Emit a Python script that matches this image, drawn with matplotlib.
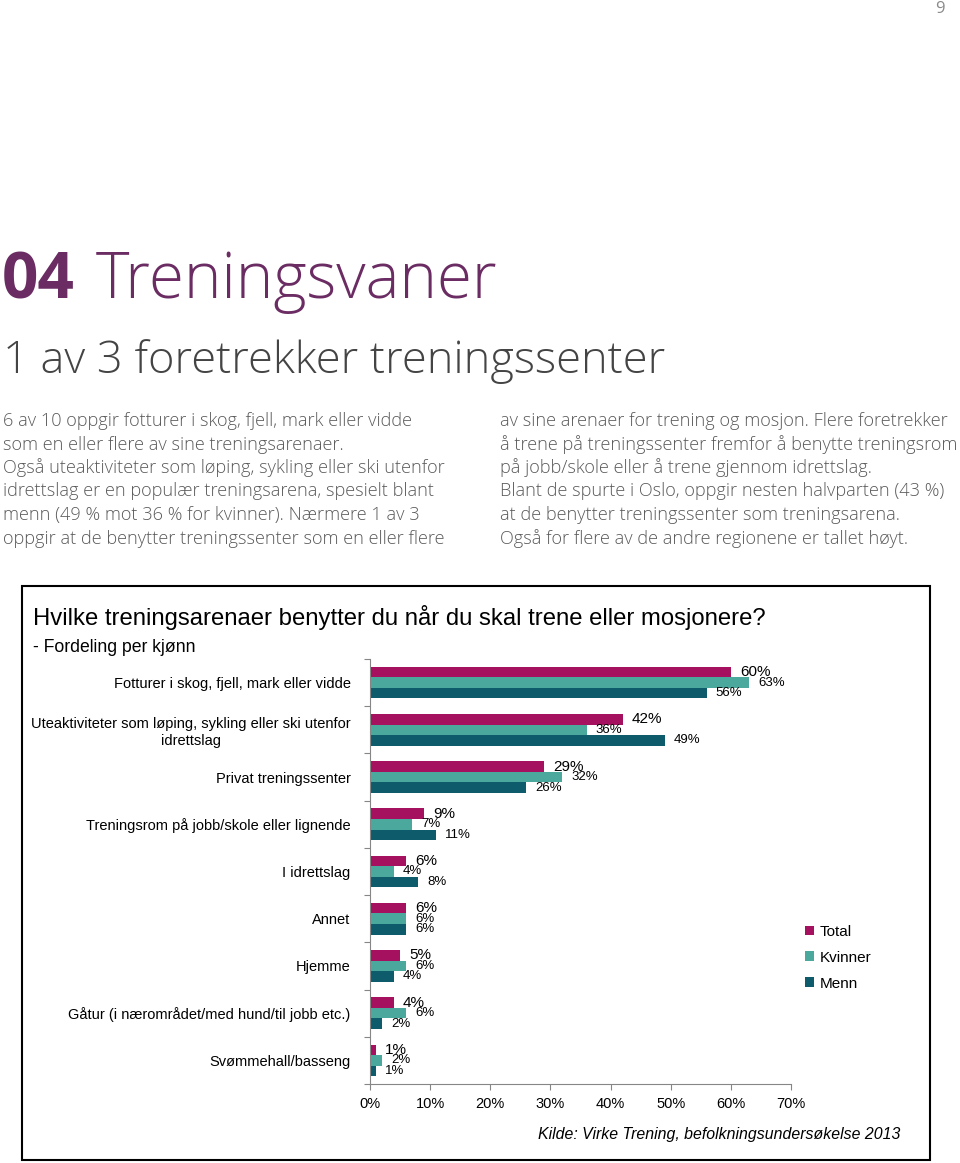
import matplotlib.pyplot as plt
import matplotlib.patches as patches
import numpy as np

categories = [
    'Fotturer i skog, fjell, mark eller vidde',
    'Uteaktiviteter som løping, sykling eller ski utenfor\nidrettslag',
    'Privat treningssenter',
    'Treningsrom på jobb/skole eller lignende',
    'I idrettslag',
    'Annet',
    'Hjemme',
    'Gåtur (i nærområdet/med hund/til jobb etc.)',
    'Svømmehall/basseng',
]
total = [60, 42, 29, 9, 6, 6, 5, 4, 1]
kvinner = [63, 36, 32, 7, 4, 6, 6, 6, 2]
menn = [56, 49, 26, 11, 8, 6, 4, 2, 1]
series_names = ['Total', 'Kvinner', 'Menn']
x_ticks = [0, 10, 20, 30, 40, 50, 60, 70]

colors = ['#A5115F', '#4BA89D', '#0E5C6B']
purple = '#6A2C62'
body_grey = '#5A5A5A'

left_lines = [
    '6 av 10 oppgir fotturer i skog, fjell, mark eller vidde',
    'som en eller flere av sine treningsarenaer.',
    'Også uteaktiviteter som løping, sykling eller ski utenfor',
    'idrettslag er en populær treningsarena, spesielt blant',
    'menn (49 % mot 36 % for kvinner). Nærmere 1 av 3',
    'oppgir at de benytter treningssenter som en eller flere',
]
right_lines = [
    'av sine arenaer for trening og mosjon. Flere foretrekker',
    'å trene på treningssenter fremfor å benytte treningsrom',
    'på jobb/skole eller å trene gjennom idrettslag.',
    'Blant de spurte i Oslo, oppgir nesten halvparten (43 %)',
    'at de benytter treningssenter som treningsarena.',
    'Også for flere av de andre regionene er tallet høyt.',
]

W, H = 960, 1163
fig = plt.figure(figsize=(9.6, 11.63), dpi=100)


def fx(px):
    return px / W


def fy(py):
    return 1 - py / H


# page header
fig.text(fx(940), fy(9), '9', color='#8A8A8A', fontsize=12, family='Open Sans',
         ha='center', va='center')
fig.text(fx(2), fy(298), '04', color=purple, fontsize=46, family='Open Sans',
         fontweight='bold', va='baseline')
fig.text(fx(96), fy(298), 'Treningsvaner', color=purple, fontsize=46,
         family='Open Sans', fontweight='light', va='baseline')
fig.text(fx(3), fy(373), '1 av 3 foretrekker treningssenter', color='#444444',
         fontsize=32.6, family='Open Sans', fontweight='light', va='baseline')

for i, line in enumerate(left_lines):
    fig.text(fx(3), fy(426 + i * 23.5), line, color=body_grey, fontsize=13.1,
             family='Open Sans', fontweight='light', va='baseline')
for i, line in enumerate(right_lines):
    fig.text(fx(500), fy(426 + i * 23.5), line, color=body_grey, fontsize=13.1,
             family='Open Sans', fontweight='light', va='baseline')

# chart frame
fig.patches.append(patches.Rectangle((fx(22), fy(1160)), fx(930) - fx(22), fy(586) - fy(1160),
                                     transform=fig.transFigure, fill=False,
                                     edgecolor='black', linewidth=1.5))
fig.text(fx(33), fy(617), 'Hvilke treningsarenaer benytter du når du skal trene eller mosjonere?',
         fontsize=17.2, family='Liberation Sans', va='center')
fig.text(fx(33), fy(647), '- Fordeling per kjønn', fontsize=12.7,
         family='Liberation Sans', va='center')

ax = fig.add_axes([fx(370), fy(1084), fx(791) - fx(370), fy(659) - fy(1084)])

y = np.arange(len(categories))
h = 0.223
for k, (vals, name) in enumerate(zip([total, kvinner, menn], series_names)):
    pos = y + (k - 1) * h
    ax.barh(pos, vals, height=h, color=colors[k], label=name)
    for p, v in zip(pos, vals):
        ax.annotate(f'{v}%', (v, p), xytext=(6.5, 0), textcoords='offset points',
                    ha='left', va='center', family='Liberation Sans',
                    fontsize=11 if k == 0 else 9.5)

ax.set_xlim(0, 70)
ax.set_ylim(len(categories) - 0.5, -0.5)
ax.set_xticks(x_ticks)
ax.set_xticklabels([f'{t}%' for t in x_ticks], family='Liberation Sans', fontsize=10.5)
ax.set_yticks(np.arange(len(categories) + 1) - 0.5)
ax.set_yticklabels([])
ax.set_yticks(y, minor=True)
ax.set_yticklabels(categories, minor=True, family='Liberation Sans', fontsize=10.5,
                   multialignment='center')
ax.tick_params(axis='y', which='minor', length=0, pad=14)
ax.tick_params(axis='y', which='major', length=4, color='#868686')
ax.tick_params(axis='x', length=4, color='#868686', pad=5)
for s in ['top', 'right']:
    ax.spines[s].set_visible(False)
for s in ['left', 'bottom']:
    ax.spines[s].set_color('#868686')

fig.legend(loc='upper left', bbox_to_anchor=(fx(791), fy(911)), frameon=False,
           handlelength=0.6, handleheight=0.6, handletextpad=0.35, labelspacing=0.78,
           prop={'family': 'Liberation Sans', 'size': 11})

fig.text(fx(900), fy(1135), 'Kilde: Virke Trening, befolkningsundersøkelse 2013',
         fontsize=11.4, family='Liberation Sans', style='italic', ha='right', va='center')

fig.savefig('out.png', dpi=100)
